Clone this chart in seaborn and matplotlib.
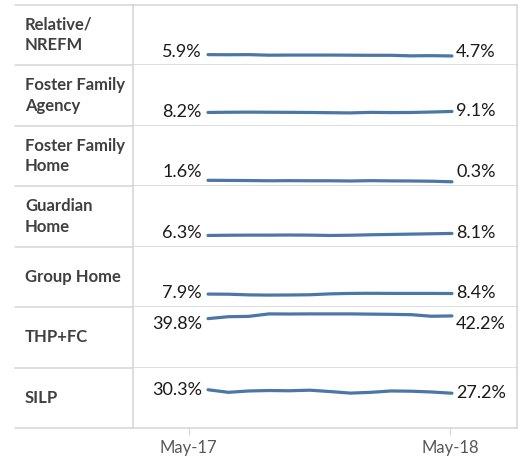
import matplotlib
matplotlib.use('Agg')
import matplotlib.pyplot as plt
import seaborn as sns
import pandas as pd

# placement types, May-17 .. May-18 (13 monthly points)
placements = ['Relative/\nNREFM', 'Foster Family\nAgency', 'Foster Family\nHome',
              'Guardian\nHome', 'Group Home', 'THP+FC', 'SILP']
months = list(range(13))
tick_labels = ['May-17', 'May-18']

relative = [5.9, 5.8, 5.9, 5.4, 5.5, 5.5, 5.5, 5.4, 5.3, 5.3, 4.8, 5.0, 4.7]
ffa = [8.2, 8.4, 8.5, 8.4, 8.3, 8.2, 8.0, 7.8, 8.3, 8.1, 8.2, 8.6, 9.1]
ffh = [1.6, 1.5, 1.4, 1.2, 1.3, 1.2, 1.2, 1.0, 1.3, 1.1, 1.0, 0.8, 0.3]
guardian = [6.3, 6.5, 6.6, 6.6, 6.7, 6.6, 6.3, 6.5, 6.9, 7.2, 7.5, 7.8, 8.1]
group_home = [7.9, 7.8, 7.2, 7.0, 7.1, 7.3, 8.1, 8.5, 8.6, 8.5, 8.5, 8.5, 8.4]
thp_fc = [39.8, 41.5, 41.8, 44.0, 43.9, 44.0, 44.0, 44.0, 43.8, 43.6, 43.3, 41.9, 42.2]
silp = [30.3, 28.0, 29.2, 29.6, 29.4, 29.9, 28.7, 27.3, 28.0, 29.2, 29.0, 28.3, 27.2]

series = [relative, ffa, ffh, guardian, group_home, thp_fc, silp]

rows = []
for name, vals in zip(placements, series):
    for m, v in zip(months, vals):
        rows.append([name, m, v])
df = pd.DataFrame(rows, columns=['Placement', 'Month', 'Percent'])

sns.set_style('white')
plt.rcParams['font.family'] = ['Lato', 'DejaVu Sans']

line_color = '#4A77A8'
grid_color = '#D4D4D4'
ymin, ymax = -3.7, 50

W, H = 526, 457
fig, axes = plt.subplots(7, 1, sharex=True, sharey=True, figsize=(W / 100, H / 100), dpi=100)
fig.subplots_adjust(left=133 / W, right=517 / W, top=1 - 5 / H, bottom=1 - 428 / H, hspace=0)

for i, (ax, name, vals) in enumerate(zip(axes, placements, series)):
    sns.lineplot(data=df[df['Placement'] == name], x='Month', y='Percent', ax=ax,
                 color=line_color, linewidth=2.3, solid_capstyle='round')
    ax.set_xlim(-3.69, 15.2)
    ax.set_ylim(ymin, ymax)
    ax.set_xlabel('')
    ax.set_ylabel('')
    ax.set_yticks([])
    for s in ax.spines.values():
        s.set_color(grid_color)
        s.set_linewidth(1.1)
    ax.spines['top'].set_visible(i == 0)

    # extend row separators to the label column
    ax.plot([-0.307, 0], [0, 0], transform=ax.transAxes, color=grid_color, lw=1.1, clip_on=False)
    if i == 0:
        ax.plot([-0.307, 0], [1, 1], transform=ax.transAxes, color=grid_color, lw=1.1, clip_on=False)

    ax.text(-0.281, 0.5, name, transform=ax.transAxes, ha='left', va='center',
            fontsize=12, fontweight='bold', color='#404040', linespacing=1.35)

    for m, v, off, ha in [(months[0], vals[0], -4.5, 'right'), (months[-1], vals[-1], 3, 'left')]:
        frac = (v - ymin) / (ymax - ymin)
        frac = min(max(frac, 0.23), 0.72)
        ax.annotate(f'{v:.1f}%', xy=(m, frac), xycoords=('data', 'axes fraction'),
                    xytext=(off, 0), textcoords='offset points', ha=ha, va='center',
                    fontsize=13, color='#1A1A1A')

    if i < 6:
        ax.tick_params(axis='x', length=0, labelbottom=False)

bottom = axes[-1]
bottom.set_xticks([months[0] - 0.95, months[-1] - 0.1])
bottom.set_xticklabels(tick_labels)
bottom.tick_params(axis='x', length=5, color=grid_color, labelcolor='#595959',
                   labelsize=12, pad=3.5, bottom=True)

fig.savefig('out.png', dpi=100)
